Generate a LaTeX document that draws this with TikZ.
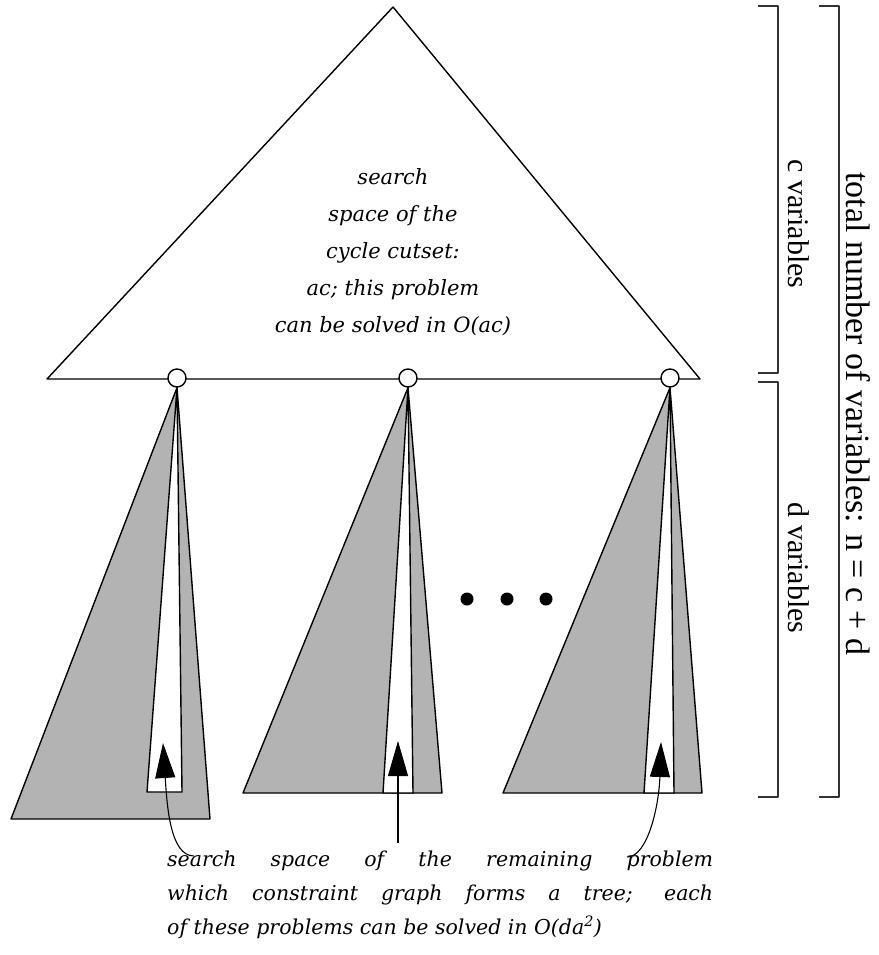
\documentclass[tikz,border=0pt]{standalone}
\usepackage{fontspec}
\setmainfont{DejaVu Serif}
\newfontfamily\sidefont{Liberation Serif}
\usetikzlibrary{arrows.meta}

\definecolor{treegray}{RGB}{179,179,179}
\definecolor{bracegray}{RGB}{51,51,51}

\begin{document}
\begin{tikzpicture}[x=1pt,y=-1pt,line join=round,
  outline/.style={draw=black,line width=1.4pt},
  subtree/.style={outline,fill=treegray},
  strip/.style={outline,fill=white},
  cutnode/.style={circle,draw=black,line width=1.4pt,fill=white,minimum size=18pt,inner sep=0pt},
  dotnode/.style={circle,fill=black,minimum size=13pt,inner sep=0pt},
  bracket/.style={draw=bracegray,line width=1.4pt},
  pointer/.style={line width=1.1pt,-{Triangle[length=35pt,width=20pt]}},
  itlabel/.style={font=\fontsize{21}{37}\selectfont\itshape,align=center,inner sep=0pt},
  sidelabel/.style={font=\sidefont\fontsize{30}{34}\selectfont,rotate=-90,inner sep=0pt}]

\useasboundingbox (0,0) rectangle (878,955);

% search tree of the cycle cutset
\draw[outline,fill=white] (393,7) -- (47,379) -- (700,379) -- cycle;
\node[itlabel] (cutset) at (393,252)
  {search\\space of the\\cycle cutset:\\ac; this problem\\can be solved in O(ac)};

% leaves of the cutset tree
\node[cutnode] (c1) at (177,378) {};
\node[cutnode] (c2) at (408,378) {};
\node[cutnode] (c3) at (670,378) {};

% remaining tree-structured subproblems
\draw[subtree] (c1.south) -- (11,819) -- (210,819) -- cycle;
\draw[strip]   (c1.south) -- (147,792) -- (182,792) -- cycle;
\draw[subtree] (c2.south) -- (243,793) -- (442,793) -- cycle;
\draw[strip]   (c2.south) -- (383,793) -- (413,793) -- cycle;
\draw[subtree] (c3.south) -- (503,793) -- (702,793) -- cycle;
\draw[strip]   (c3.south) -- (644,793) -- (674,793) -- cycle;

% ellipsis between subproblems
\node[dotnode] (d1) at (467,599) {};
\node[dotnode] (d2) at (507,599) {};
\node[dotnode] (d3) at (546,599) {};

% explanation below the subproblems (anchored at the last baseline)
\node[font=\fontsize{20.5}{34}\selectfont\itshape,align=left,inner sep=0pt,anchor=base west] (note) at (167,934)
  {\makebox[546pt][s]{search space of the remaining problem}\\
   \makebox[546pt][s]{which constraint graph forms a tree; each}\\
   of these problems can be solved in O(da\textsuperscript{2})};

\coordinate (tip1) at (163,743);
\coordinate (tip2) at (398,741);
\coordinate (tip3) at (661,742);
\coordinate (from1) at (194,856);
\coordinate (from2) at (398,843);
\coordinate (from3) at (627,857);

\draw[pointer] (from1) .. controls (170,856) and (167,805) .. (tip1);
\draw[pointer] (from2) -- (tip2);
\draw[pointer] (from3) .. controls (648,857) and (659,805) .. (tip3);

% variable counts
\draw[bracket] (758,6) -- (778,6) -- (778,373) -- (758,373);
\draw[bracket] (758,382) -- (778,382) -- (778,797) -- (758,797);
\draw[bracket] (819,6) -- (839,6) -- (839,797) -- (819,797);
\node[sidelabel] (cvars) at (799,224) {c variables};
\node[sidelabel] (dvars) at (799,568) {d variables};
\node[sidelabel,font=\sidefont\fontsize{34}{38}\selectfont] (total) at (858,414) {total number of variables: n = c + d};
\end{tikzpicture}
\end{document}
